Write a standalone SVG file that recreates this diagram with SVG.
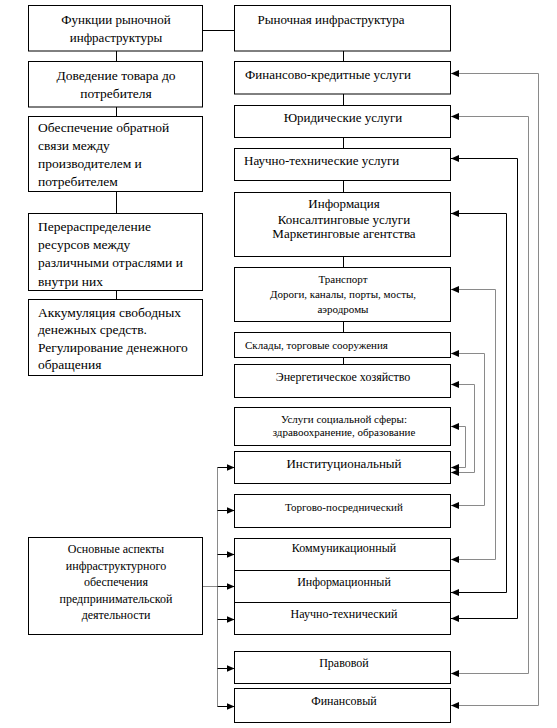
<svg xmlns="http://www.w3.org/2000/svg" width="557" height="728" viewBox="0 0 557 728" font-family="'Liberation Serif', 'Times New Roman', serif">
<defs>
<marker id="ah" markerUnits="userSpaceOnUse" markerWidth="9" markerHeight="7" refX="8" refY="3.5" orient="auto-start-reverse">
<path d="M0,0 L8,3.5 L0,7 z" fill="#000"/>
</marker>
<style>
rect{fill:#fff;stroke:#000;stroke-width:1}
text{font-family:'Liberation Serif','Times New Roman',serif;fill:#000}
.c{text-anchor:middle}
.f13{font-size:13px}
.f12{font-size:12px}
.f11{font-size:11px}
.fl{font-size:13.5px}
.ln{fill:none;stroke:#000;stroke-width:1}
.g{stroke:#8a8a8a}
.a{marker-start:url(#ah);marker-end:url(#ah)}
.e{marker-end:url(#ah)}
</style>
</defs>
<rect width="557" height="728" style="stroke:none;fill:#fff"/>
<g id="connectors">
<path class="ln" d="M202.5,30.5 H234.5"/>
<path class="ln" d="M116.5,51 V61.5 M116.5,107 V116.5 M116.5,191.5 V213.5 M116.5,290.5 V299.5"/>
<path class="ln" d="M343.5,51 V61.5 M343.5,94 V105.5 M343.5,137.5 V148.5 M343.5,180.5 V192.5 M343.5,256.5 V267.5 M343.5,321.5 V332.5 M343.5,357.5 V364.5"/>
<path class="ln g" d="M202.5,586.5 H217.5 M217.5,467.5 V706.5"/>
<path class="ln e" d="M217.5,467.5 H234.5"/>
<path class="ln e" d="M217.5,510.5 H234.5"/>
<path class="ln e" d="M217.5,554.5 H234.5"/>
<path class="ln e" d="M217.5,586.5 H234.5"/>
<path class="ln e" d="M217.5,619.5 H234.5"/>
<path class="ln e" d="M217.5,668.5 H234.5"/>
<path class="ln e" d="M217.5,706.5 H234.5"/>
<path class="ln g a" d="M451,73.5 H538.5 V705.5 H451"/>
<path class="ln g a" d="M451,116.5 H528.5 V673.5 H451"/>
<path class="ln a" d="M451,158.5 H517.5 V618.5 H451"/>
<path class="ln a" d="M451,213.5 H506.5 V592.5 H451"/>
<path class="ln g a" d="M451,289.5 H495.5 V559.5 H451"/>
<path class="ln g a" d="M451,353.5 H484.5 V505.5 H451"/>
<path class="ln g a" d="M451,384.5 H474.5 V472.5 H451"/>
<path class="ln g a" d="M451,426.5 H465.5 V467.5 H451"/>
</g>
<g id="L1"><rect x="28.5" y="5.5" width="174" height="45.5"/><text class="c f13" x="116" y="24">Функции рыночной</text><text class="c f13" x="116" y="42">инфраструктуры</text></g>
<g id="L2"><rect x="28.5" y="61.5" width="174" height="45.5"/><text class="c fl" x="116" y="80">Доведение товара до</text><text class="c fl" x="116" y="98">потребителя</text></g>
<g id="L3"><rect x="28.5" y="116.5" width="174" height="75"/><text class="fl" x="38" y="132">Обеспечение обратной</text><text class="fl" x="38" y="150">связи между</text><text class="fl" x="38" y="168">производителем и</text><text class="fl" x="38" y="186">потребителем</text></g>
<g id="L4"><rect x="28.5" y="213.5" width="174" height="77"/><text class="fl" x="38" y="231">Перераспределение</text><text class="fl" x="38" y="249">ресурсов между</text><text class="fl" x="38" y="267">различными отраслями и</text><text class="fl" x="38" y="286">внутри них</text></g>
<g id="L5"><rect x="28.5" y="299.5" width="174" height="76"/><text class="fl" x="38" y="317">Аккумуляция свободных</text><text class="fl" x="38" y="334">денежных средств.</text><text class="fl" x="38" y="352">Регулирование денежного</text><text class="fl" x="38" y="369">обращения</text></g>
<g id="L6"><rect x="28.5" y="537.5" width="174" height="97"/><text class="c f12" x="116" y="553">Основные аспекты</text><text class="c f12" x="116" y="570">инфраструктурного</text><text class="c f12" x="116" y="586">обеспечения</text><text class="c f12" x="116" y="603">предпринимательской</text><text class="c f12" x="116" y="619">деятельности</text></g>
<g id="R0"><rect x="234.5" y="5.5" width="216" height="45.5"/><text class="c f13" x="331" y="24">Рыночная инфраструктура</text></g>
<g id="R1"><rect x="234.5" y="61.5" width="216" height="32.5"/><text class="f13" x="245" y="79">Финансово-кредитные услуги</text></g>
<g id="R2"><rect x="234.5" y="105.5" width="216" height="32"/><text class="c f13" x="343" y="122">Юридические услуги</text></g>
<g id="R3"><rect x="234.5" y="148.5" width="216" height="32"/><text class="f13" x="244" y="165">Научно-технические услуги</text></g>
<g id="R4"><rect x="234.5" y="192.5" width="216" height="64"/><text class="c f13" x="344" y="208">Информация</text><text class="c f13" x="344" y="224">Консалтинговые услуги</text><text class="c f13" x="344" y="238">Маркетинговые агентства</text></g>
<g id="R5"><rect x="234.5" y="267.5" width="216" height="54"/><text class="c f11" x="343" y="283">Транспорт</text><text class="c f11" x="343" y="298">Дороги, каналы, порты, мосты,</text><text class="c f11" x="343" y="313">аэродромы</text></g>
<g id="R6"><rect x="234.5" y="332.5" width="216" height="25"/><text class="f11" x="245" y="349">Склады, торговые сооружения</text></g>
<g id="R7"><rect x="234.5" y="364.5" width="216" height="33"/><text class="c f12" x="343" y="381">Энергетическое хозяйство</text></g>
<g id="R8"><rect x="234.5" y="407.5" width="216" height="38"/><text class="c f11" x="344" y="423">Услуги социальной сферы:</text><text class="c f11" x="344" y="436">здравоохранение, образование</text></g>
<g id="R9"><rect x="234.5" y="451.5" width="216" height="32"/><text class="c f13" x="344" y="468">Институциональный</text></g>
<g id="R10"><rect x="234.5" y="494.5" width="216" height="33"/><text class="c f11" x="344" y="511">Торгово-посреднический</text></g>
<g id="R11"><rect x="234.5" y="538.5" width="216" height="32"/><text class="c f12" x="344" y="552">Коммуникационный</text></g>
<g id="R12"><rect x="234.5" y="570.5" width="216" height="32"/><text class="c f12" x="344" y="586">Информационный</text></g>
<g id="R13"><rect x="234.5" y="602.5" width="216" height="32"/><text class="c f12" x="344" y="618">Научно-технический</text></g>
<g id="R14"><rect x="234.5" y="651.5" width="216" height="32"/><text class="c f12" x="344" y="667">Правовой</text></g>
<g id="R15"><rect x="234.5" y="688.5" width="216" height="34"/><text class="c f12" x="344" y="705">Финансовый</text></g>
</svg>
